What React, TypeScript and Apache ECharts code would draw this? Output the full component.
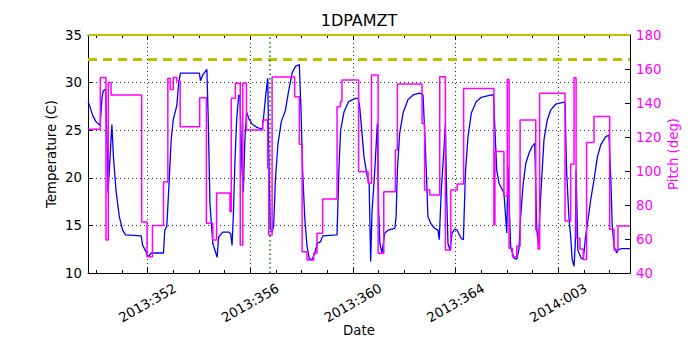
import React, { useEffect, useRef } from 'react';
import * as echarts from 'echarts';

// Day-of-year axis: values > 365 are in 2014
const tempTime = [
  349.69, 349.87, 349.99, 350.15, 350.23, 350.28, 350.36, 350.41, 350.46, 350.54,
  350.61, 350.67, 350.77, 350.9, 351.03, 351.14, 351.75, 351.81, 351.91, 352.02,
  352.15, 352.62, 352.67, 352.75, 352.83, 352.92, 353.0, 353.14, 353.21, 353.28,
  354.02, 354.06, 354.15, 354.31, 354.36, 354.43, 354.54, 354.71, 354.77, 354.93,
  355.16, 355.24, 355.29, 355.34, 355.4, 355.47, 355.55, 355.6, 355.68, 355.73,
  355.79, 355.86, 355.94, 356.07, 356.26, 356.46, 356.51, 356.61, 356.68, 356.73,
  356.78, 356.85, 356.91, 356.98, 357.08, 357.21, 357.37, 357.5, 357.63, 357.76,
  357.91, 357.98, 358.04, 358.12, 358.21, 358.3, 358.41, 358.51, 358.61, 358.74,
  358.82, 359.38, 359.45, 359.52, 359.65, 359.83, 360.09, 360.2, 360.26, 360.33,
  360.43, 360.56, 360.63, 360.69, 360.74, 360.85, 360.95, 361.0, 361.05, 361.13,
  361.24, 361.37, 361.63, 361.68, 361.73, 361.82, 361.95, 362.14, 362.34, 362.6,
  362.73, 362.79, 362.86, 362.92, 363.03, 363.18, 363.31, 363.36, 363.44, 363.55,
  363.6, 363.65, 363.7, 363.78, 363.86, 363.96, 364.06, 364.22, 364.3, 364.38,
  364.48, 364.61, 364.8, 365.0, 365.39, 365.47, 365.6, 365.69, 365.88, 365.99,
  366.04, 366.14, 366.27, 366.38, 366.47, 366.53, 366.63, 366.73, 366.86, 366.98,
  367.08, 367.16, 367.22, 367.31, 367.44, 367.57, 367.7, 367.9, 368.22, 368.26,
  368.32, 368.41, 368.48, 368.54, 368.61, 368.66, 368.69, 368.76, 368.89, 368.97,
  369.06, 369.19, 369.26, 369.39, 369.52, 369.65, 369.84, 369.97, 370.04, 370.1,
  370.17, 370.27, 370.32, 370.43, 370.79,
];
const tempValue = [
  28.0, 26.5, 25.9, 25.5, 28.5, 29.15, 29.3, 25.0, 18.4, 22.2,
  25.6, 22.2, 18.7, 15.9, 14.5, 14.0, 13.9, 12.9, 12.4, 11.7,
  12.1, 12.1, 14.5, 14.9, 19.1, 24.0, 26.1, 27.6, 29.9, 31.0,
  31.0, 30.2, 30.8, 31.4, 26.4, 17.3, 13.1, 11.65, 13.8, 14.3,
  14.3, 14.1, 12.9, 15.9, 21.5, 26.1, 28.7, 28.5, 20.8, 18.5,
  24.0, 26.9, 26.25, 25.65, 25.3, 25.1, 26.1, 28.9, 30.45, 21.5,
  14.7, 14.3, 14.9, 19.8, 23.6, 25.9, 27.1, 29.2, 31.0, 31.7,
  31.9, 26.8, 20.8, 15.9, 12.8, 11.5, 11.4, 12.1, 13.1, 13.3,
  13.9, 14.0, 20.8, 25.0, 26.9, 28.0, 28.35, 28.35, 27.5, 25.4,
  22.2, 20.1, 19.4, 11.2, 16.3, 20.8, 25.7, 16.6, 13.1, 12.1,
  14.2, 14.5, 14.7, 15.9, 20.8, 24.7, 26.8, 28.2, 28.7, 28.9,
  28.7, 25.0, 20.5, 15.9, 15.2, 14.7, 14.5, 13.5, 18.7, 23.3,
  25.7, 18.0, 13.1, 12.4, 14.2, 14.6, 14.5, 13.6, 13.5, 20.5,
  24.3, 26.8, 28.0, 28.45, 28.7, 28.7, 20.8, 19.4, 18.4, 14.2,
  21.2, 12.8, 11.55, 11.45, 12.6, 15.9, 19.4, 21.5, 22.6, 23.3,
  23.6, 14.5, 13.1, 18.0, 24.0, 26.1, 27.1, 27.75, 27.95, 27.8,
  20.8, 15.9, 13.8, 11.4, 10.7, 13.1, 20.8, 12.4, 11.55, 11.45,
  13.8, 16.3, 17.7, 19.8, 22.2, 23.45, 24.3, 24.5, 20.1, 14.9,
  12.8, 12.1, 12.4, 12.55, 12.55,
];

const pitchTime = [
  349.69, 350.16, 350.38, 350.47, 350.58, 351.77, 351.98, 352.19, 352.62, 352.79,
  352.88, 353.0, 353.14, 353.27, 354.03, 354.29, 354.54, 354.69, 355.21, 355.26,
  355.42, 355.61, 355.71, 355.85, 356.49, 356.68, 356.72, 356.85, 357.73, 357.91,
  358.02, 358.21, 358.47, 358.6, 358.82, 359.38, 359.51, 359.57, 360.22, 360.59,
  360.72, 360.98, 361.2, 361.65, 361.73, 362.69, 362.79, 362.99, 363.38, 363.6,
  363.81, 364.06, 364.31, 365.49, 365.53, 365.88, 366.01, 366.08, 366.21, 366.38,
  366.51, 367.12, 367.21, 367.27, 368.26, 368.48, 368.61, 368.69, 368.84, 368.97,
  369.1, 369.39, 370.0, 370.17, 370.32, 370.79,
];
const pitchValue = [
  124.5, 155, 59.4, 152, 144.7, 70, 49.5, 68, 93.5, 154.5,
  148, 155, 153, 126, 143.1, 69.2, 59.4, 87, 76.1, 142.8,
  151.6, 56.5, 151.8, 124.1, 130, 101.6, 62.4, 155.3, 143.7, 115.7,
  52.5, 47.6, 51.6, 63.4, 83.5, 137.8, 140.8, 153.5, 99.6, 92.8,
  156.5, 51.6, 87.8, 112.4, 151.2, 128, 88.8, 85.9, 155.5, 53.5,
  88.8, 92.4, 148.6, 68.2, 111.4, 85.3, 153.9, 54.5, 49.6, 55.9,
  130, 65.3, 54.1, 145.7, 70.6, 104, 154.9, 60.4, 54.1, 48,
  116.7, 132, 65.7, 53.5, 67.6, 67.6,
];

const majorDays = [352, 356, 360, 364, 368];
const minorDays = [350, 351, 352, 353, 354, 355, 356, 357, 358, 359, 360, 361, 362, 363, 364, 365, 366, 367, 368, 369, 370];
const dayRange = [349.68, 370.79];
const tempRange = [10, 35, 5];
const pitchRange = [40, 180, 20];
const planningLimit = 32.5;
const upperLimit = 35;
const eventDay = 356.77;

const FONT = 'DejaVu Sans';
const FS = 13.3;

function dayLabel(v: number): string {
  const d = Math.round(v);
  if (d <= 365) return '2013:' + String(d).padStart(3, '0');
  return '2014:' + String(d - 365).padStart(3, '0');
}

export default function App() {
  const ref = useRef<HTMLDivElement>(null);
  useEffect(() => {
    if (!ref.current) return;
    const chart = echarts.init(ref.current, null, { renderer: 'svg' });
    const dotted = { type: [1, 3], color: '#000', width: 0.8 };
    const tempData = tempTime.map((t, i) => [t, tempValue[i]]);
    const pitchData = pitchTime.map((t, i) => [t, pitchValue[i]]);
    const baseX = {
      type: 'value',
      min: dayRange[0],
      max: dayRange[1],
      gridIndex: 0,
    };
    chart.setOption({
      animation: false,
      backgroundColor: '#ffffff',
      title: {
        text: '1DPAMZT',
        left: 359,
        top: 12,
        padding: 0,
        textAlign: 'center',
        textStyle: { fontSize: 16, fontWeight: 'normal', fontFamily: FONT, color: '#000' },
      },
      grid: { left: 88, right: 70, top: 35, bottom: 77, containLabel: false },
      xAxis: [
        {
          ...baseX,
          position: 'bottom',
          axisLine: { show: true, onZero: false, lineStyle: { color: '#000', width: 1 } },
          axisTick: { show: true, inside: true, length: 5, customValues: majorDays, lineStyle: { color: '#000' } },
          axisLabel: {
            show: true,
            customValues: majorDays,
            formatter: dayLabel,
            rotate: 30,
            align: 'center',
            verticalAlign: 'middle',
            margin: 30,
            fontSize: FS,
            fontFamily: FONT,
            color: '#000',
          },
          splitLine: { show: true, lineStyle: dotted },
          name: 'Date',
          nameLocation: 'middle',
          nameGap: 51,
          nameMoveOverlap: false,
          nameTextStyle: { fontSize: FS, fontFamily: FONT, color: '#000' },
        },
        {
          ...baseX,
          position: 'bottom',
          axisLine: { show: false },
          axisTick: { show: true, inside: true, length: 3, customValues: minorDays, lineStyle: { color: '#000' } },
          axisLabel: { show: false },
          splitLine: { show: false },
        },
        {
          ...baseX,
          position: 'top',
          axisLine: { show: true, onZero: false, lineStyle: { color: '#000', width: 1 } },
          axisTick: { show: true, inside: true, length: 5, customValues: majorDays, lineStyle: { color: '#000' } },
          axisLabel: { show: false },
          splitLine: { show: false },
        },
        {
          ...baseX,
          position: 'top',
          axisLine: { show: false },
          axisTick: { show: true, inside: true, length: 3, customValues: minorDays, lineStyle: { color: '#000' } },
          axisLabel: { show: false },
          splitLine: { show: false },
        },
      ],
      yAxis: [
        {
          type: 'value',
          min: tempRange[0],
          max: tempRange[1],
          interval: tempRange[2],
          position: 'left',
          axisLine: { show: true, onZero: false, lineStyle: { color: '#000', width: 1 } },
          axisTick: { show: true, inside: true, length: 5, lineStyle: { color: '#000' } },
          axisLabel: { fontSize: FS, fontFamily: FONT, color: '#000', margin: 6 },
          splitLine: { show: true, lineStyle: dotted },
          name: 'Temperature (C)',
          nameLocation: 'middle',
          nameRotate: 90,
          nameGap: 30,
          nameMoveOverlap: false,
          nameTextStyle: { fontSize: FS, fontFamily: FONT, color: '#000' },
        },
        {
          type: 'value',
          min: pitchRange[0],
          max: pitchRange[1],
          interval: pitchRange[2],
          position: 'right',
          axisLine: { show: true, onZero: false, lineStyle: { color: '#000', width: 1 } },
          axisTick: { show: true, inside: true, length: 5, lineStyle: { color: '#000' } },
          axisLabel: { fontSize: FS, fontFamily: FONT, color: '#ff00ff', margin: 6 },
          splitLine: { show: false },
          name: 'Pitch (deg)',
          nameLocation: 'middle',
          nameRotate: 90,
          nameGap: 37,
          nameMoveOverlap: false,
          nameTextStyle: { fontSize: FS, fontFamily: FONT, color: '#ff00ff' },
        },
      ],
      series: [
        {
          type: 'line',
          name: 'Temperature',
          xAxisIndex: 0,
          yAxisIndex: 0,
          data: tempData,
          showSymbol: false,
          symbol: 'none',
          lineStyle: { color: '#0000ff', width: 1.3 },
          itemStyle: { color: '#0000ff' },
          z: 2,
          markLine: {
            silent: true,
            symbol: ['none', 'none'],
            label: { show: false },
            data: [
              { yAxis: planningLimit, lineStyle: { color: '#bfbf00', width: 3, type: [9, 6] } },
              { yAxis: upperLimit, lineStyle: { color: '#bfbf00', width: 2, type: 'solid' } },
              { xAxis: eventDay, lineStyle: { color: '#008000', width: 1.5, type: [1.5, 3] } },
            ],
          },
        },
        {
          type: 'line',
          name: 'Pitch',
          xAxisIndex: 0,
          yAxisIndex: 1,
          step: 'end',
          data: pitchData,
          showSymbol: false,
          symbol: 'none',
          lineStyle: { color: '#ff00ff', width: 1.5 },
          itemStyle: { color: '#ff00ff' },
          z: 3,
        },
      ],
    });
    return () => chart.dispose();
  }, []);
  return (
    <div
      ref={ref}
      style={{ position: 'absolute', left: 0, top: 0, width: 700, height: 350, background: '#fff' }}
    />
  );
}
